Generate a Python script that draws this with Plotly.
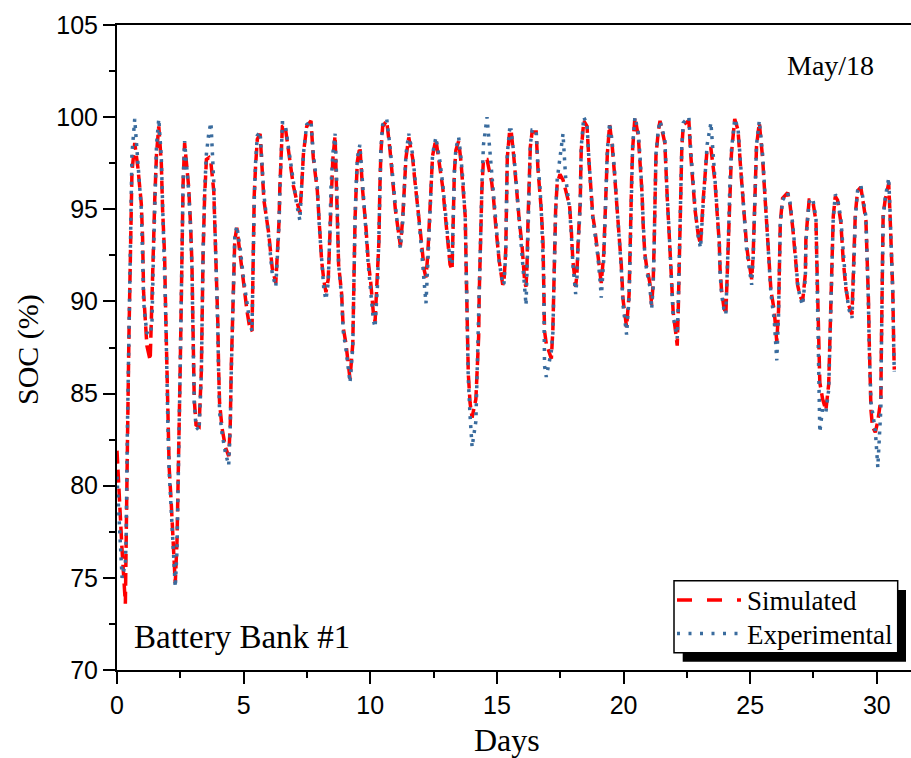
import plotly.graph_objects as go

# ---- data ----
days = [
    0.00, 0.08, 0.20, 0.33,
    0.36, 0.41, 0.47, 0.53, 0.59, 0.70,
    0.83, 0.96, 1.01, 1.05, 1.12, 1.18, 1.31,
    1.38, 1.44, 1.49, 1.56, 1.65,
    1.75, 1.80, 1.88, 1.91, 1.95, 1.97, 2.01, 2.06, 2.14, 2.20, 2.30,
    2.37, 2.41, 2.45, 2.49, 2.53, 2.57, 2.61, 2.67,
    2.83, 2.91, 2.96, 2.99, 3.02, 3.05, 3.12, 3.24,
    3.33, 3.36, 3.40, 3.46, 3.53, 3.63, 3.71,
    3.82, 3.88, 3.95, 3.98, 4.01, 4.05, 4.15, 4.28, 4.41,
    4.47, 4.51, 4.57, 4.60, 4.65, 4.73,
    4.87, 5.00, 5.13, 5.25, 5.33,
    5.36, 5.39, 5.42, 5.47, 5.54, 5.65,
    5.71, 5.80, 5.99, 6.13, 6.27,
    6.34, 6.40, 6.43, 6.47, 6.53, 6.63,
    6.70, 6.86, 6.96, 7.09, 7.22,
    7.29, 7.36, 7.49, 7.66,
    7.75, 7.91, 7.99, 8.08, 8.17, 8.25,
    8.34, 8.41, 8.45, 8.52, 8.61,
    8.67, 8.71, 8.75, 8.87, 8.93, 9.04, 9.13, 9.20,
    9.31, 9.33, 9.36, 9.40, 9.44, 9.49, 9.59,
    9.70, 9.83, 9.92, 10.02, 10.12, 10.19,
    10.29, 10.34, 10.38, 10.42, 10.49, 10.65,
    10.78, 10.88, 10.99, 11.15, 11.19,
    11.28, 11.34, 11.41, 11.52,
    11.67, 11.78, 11.91, 12.00, 12.13, 12.20,
    12.27, 12.33, 12.39, 12.46, 12.59,
    12.75, 12.86, 12.96, 13.06, 13.15, 13.23,
    13.25, 13.28, 13.32, 13.38, 13.49,
    13.58, 13.67, 13.75, 13.78, 13.81, 13.82, 13.85, 13.87, 13.94, 14.02,
    14.17, 14.22, 14.28, 14.30, 14.33, 14.37, 14.41, 14.47, 14.61,
    14.79, 14.86, 14.96, 15.09, 15.23,
    15.28, 15.35, 15.37, 15.38, 15.41, 15.50, 15.56,
    15.67, 15.76, 15.87, 16.00, 16.10, 16.15,
    16.19, 16.23, 16.27, 16.32, 16.39, 16.55,
    16.62, 16.69, 16.75, 16.82, 16.85, 16.86, 16.88, 16.95, 17.15,
    17.21, 17.24, 17.28, 17.32, 17.38, 17.49, 17.61,
    17.71, 17.87, 17.94, 18.00, 18.11,
    18.16, 18.20, 18.24, 18.29, 18.31, 18.33, 18.43,
    18.56, 18.63, 18.70, 18.79, 18.86, 18.99, 19.08, 19.12,
    19.22, 19.28, 19.32, 19.36, 19.45,
    19.55, 19.65, 19.74, 19.85, 19.91, 19.98, 20.08, 20.12,
    20.22, 20.25, 20.28, 20.32, 20.36, 20.45,
    20.58, 20.67, 20.73, 20.78, 20.84, 20.91, 21.04, 21.11,
    21.17, 21.21, 21.24, 21.28, 21.37, 21.44,
    21.63, 21.67, 21.73, 21.80, 21.86, 21.90, 21.96, 22.07, 22.12,
    22.16, 22.20, 22.24, 22.28, 22.30, 22.36, 22.58,
    22.65, 22.73, 22.82, 22.95, 23.04,
    23.15, 23.21, 23.30, 23.45,
    23.61, 23.70, 23.78, 23.81, 23.87, 23.96, 24.04,
    24.09, 24.13, 24.17, 24.20, 24.26, 24.39,
    24.52, 24.62, 24.70, 24.79, 24.86, 24.92, 25.02, 25.06,
    25.12, 25.16, 25.21, 25.25, 25.36,
    25.49, 25.56, 25.65, 25.75, 25.82, 25.95, 26.01, 26.05,
    26.12, 26.15, 26.17, 26.19, 26.28, 26.48,
    26.57, 26.68, 26.81, 26.87, 26.97, 27.07,
    27.18, 27.20, 27.27, 27.33, 27.47,
    27.60, 27.63, 27.66, 27.69, 27.72, 27.75, 27.86, 27.99,
    28.10, 28.15, 28.19, 28.23, 28.28, 28.36, 28.45,
    28.58, 28.67, 28.78, 28.89, 29.02,
    29.07, 29.11, 29.15, 29.24, 29.37,
    29.57, 29.63, 29.67, 29.70, 29.73, 29.77, 29.83, 29.94, 30.04,
    30.16, 30.18, 30.20, 30.23, 30.25, 30.33, 30.47,
    30.52, 30.59, 30.63, 30.67, 30.69,
]

soc_sim = [
    81.9, 79.5, 76.5, 73.6,
    76.0, 82.0, 88.0, 93.5, 97.0, 98.6,
    97.2, 95.3, 93.5, 90.5, 88.9, 87.6, 86.8,
    89.5, 93.0, 95.5, 98.0, 99.5,
    97.5, 95.0, 92.5, 90.2, 87.8, 85.7, 83.7, 81.0, 79.1, 77.2, 74.7,
    77.0, 79.5, 83.0, 86.0, 89.3, 93.2, 96.4, 98.6,
    96.2, 94.0, 92.0, 89.4, 87.0, 84.7, 83.3, 83.2,
    86.2, 89.8, 92.6, 95.7, 97.7, 97.8, 97.5,
    96.0, 93.5, 91.0, 88.9, 86.5, 84.5, 83.1, 82.1, 81.6,
    83.2, 86.3, 89.7, 91.5, 93.3, 94.0,
    92.6, 91.0, 89.5, 88.5, 88.4,
    91.4, 93.5, 95.8, 97.3, 98.8, 99.1,
    97.5, 95.5, 93.7, 91.8, 91.0,
    92.6, 94.4, 96.2, 98.0, 99.5, 99.6,
    98.9, 97.3, 96.3, 95.5, 94.8,
    96.2, 98.0, 99.5, 99.8,
    97.8, 96.0, 94.2, 92.2, 91.1, 90.5,
    91.2, 94.1, 96.0, 97.7, 99.0,
    96.5, 94.0, 92.0, 90.4, 88.6, 87.7, 86.8, 85.8,
    87.7, 89.7, 92.3, 94.5, 96.0, 97.6, 98.4,
    96.0, 94.0, 92.2, 91.0, 89.4, 88.9,
    91.3, 93.2, 96.2, 98.1, 99.5, 99.8,
    98.2, 96.6, 95.0, 93.4, 93.0,
    94.5, 96.0, 97.8, 98.9,
    97.8, 96.3, 94.8, 93.5, 91.7, 91.3,
    92.5, 94.3, 96.2, 97.9, 98.8,
    97.4, 96.2, 94.7, 93.0, 92.0, 91.7,
    93.5, 95.3, 97.0, 98.2, 98.7,
    97.6, 96.2, 94.6, 92.3, 90.5, 89.6, 88.1, 86.1, 84.5, 83.7,
    84.7, 86.4, 88.1, 90.3, 92.4, 94.0, 96.2, 97.7, 97.7,
    96.5, 95.7, 94.0, 92.2, 90.9,
    91.1, 92.8, 94.5, 96.0, 97.8, 99.2, 99.3,
    97.8, 96.3, 94.6, 92.9, 91.0, 90.8,
    92.0, 94.5, 97.0, 98.4, 99.2, 99.2,
    97.2, 96.2, 95.0, 93.2, 91.5, 89.9, 88.4, 87.7, 86.9,
    88.5, 91.0, 93.5, 95.0, 96.4, 96.9, 96.6,
    96.0, 95.2, 93.8, 92.2, 90.8,
    91.5, 93.0, 93.8, 95.4, 97.0, 98.2, 99.8,
    99.5, 97.7, 96.2, 94.6, 94.0, 92.6, 91.5, 91.0,
    92.6, 94.6, 96.4, 98.0, 99.6,
    98.5, 96.8, 95.2, 93.5, 92.0, 90.1, 88.9, 88.6,
    90.4, 92.7, 94.9, 96.6, 98.3, 100.0,
    99.0, 97.3, 95.9, 94.0, 92.6, 91.9, 91.0, 89.8,
    91.0, 93.2, 95.7, 97.9, 99.2, 99.8,
    98.6, 97.1, 95.5, 93.7, 91.9, 90.3, 89.4, 88.2, 87.6,
    89.5, 92.3, 94.5, 96.5, 98.3, 99.6, 99.8,
    98.0, 96.4, 95.0, 93.6, 93.1,
    95.6, 96.9, 98.3, 98.3,
    96.5, 94.7, 93.2, 91.8, 90.6, 89.7, 89.3,
    91.3, 93.2, 95.0, 96.5, 98.0, 99.9,
    99.3, 97.3, 95.7, 94.2, 93.0, 92.4, 91.4, 91.2,
    92.6, 95.0, 96.8, 98.4, 99.7,
    97.8, 96.2, 94.3, 92.2, 90.6, 89.5, 88.3, 87.8,
    89.5, 91.0, 92.7, 94.3, 95.6, 95.9,
    95.3, 94.0, 92.0, 90.9, 90.3, 90.0,
    91.5, 93.4, 94.6, 95.5, 95.5,
    94.3, 92.3, 90.2, 88.8, 87.2, 85.6, 84.7, 84.1,
    85.5, 87.7, 90.2, 92.5, 94.6, 95.7, 95.5,
    94.3, 92.3, 90.7, 89.8, 89.3,
    91.0, 93.2, 94.7, 96.0, 96.2,
    94.4, 92.3, 90.1, 87.9, 86.1, 84.1, 83.2, 82.9, 83.5,
    84.7, 87.5, 90.2, 92.5, 94.7, 95.5, 96.4,
    94.8, 92.7, 90.6, 87.5, 86.3,
]

soc_exp = [
    80.5, 78.0, 75.0, 75.8,
    77.0, 83.0, 89.0, 94.5, 98.0, 99.9,
    97.5, 95.0, 92.5, 90.0, 89.0, 88.3, 88.2,
    88.8, 92.5, 95.8, 98.5, 99.9,
    97.8, 95.3, 92.0, 90.0, 87.5, 85.5, 83.2, 80.8, 78.5, 76.5, 74.5,
    76.5, 79.0, 82.5, 86.0, 89.5, 93.5, 96.5, 98.7,
    96.0, 93.8, 91.8, 89.0, 86.8, 84.5, 83.2, 83.0,
    86.0, 89.5, 92.8, 96.0, 98.0, 99.2, 99.7,
    96.5, 93.8, 91.0, 88.5, 86.2, 84.0, 82.8, 81.8, 81.1,
    83.0, 86.0, 89.5, 91.5, 93.5, 94.1,
    92.8, 91.2, 89.8, 88.8, 88.4,
    91.0, 93.2, 95.5, 97.5, 99.0, 99.2,
    97.8, 95.8, 93.5, 91.5, 90.8,
    92.5, 94.2, 96.0, 98.2, 99.7, 99.7,
    99.0, 97.5, 96.5, 95.3, 94.4,
    96.0, 98.0, 99.6, 99.8,
    98.0, 96.2, 94.0, 92.0, 90.6, 90.1,
    91.0, 94.0, 96.2, 98.0, 99.1,
    96.8, 94.2, 92.0, 90.2, 88.4, 87.4, 86.5, 85.6,
    87.5, 89.5, 92.0, 94.5, 96.2, 97.8, 98.5,
    96.2, 94.2, 92.0, 90.5, 89.0, 88.6,
    91.0, 93.5, 96.0, 98.3, 99.6, 99.9,
    98.4, 96.8, 95.2, 93.2, 92.9,
    94.3, 96.0, 98.0, 99.1,
    98.0, 96.5, 94.8, 93.2, 91.0, 89.9,
    92.0, 94.0, 96.0, 98.0, 98.9,
    97.6, 96.4, 94.8, 93.2, 92.2, 92.0,
    93.3, 95.0, 97.0, 98.3, 98.9,
    97.8, 96.4, 94.5, 92.0, 90.2, 89.2, 87.8, 85.8, 83.8, 82.1,
    83.5, 86.0, 88.0, 90.0, 92.2, 94.2, 96.5, 98.5, 100.0,
    97.0, 95.9, 94.2, 92.2, 90.9,
    91.0, 92.6, 94.3, 96.0, 98.0, 99.3, 99.3,
    98.0, 96.5, 94.6, 92.7, 90.6, 89.8,
    91.7, 94.3, 97.0, 98.5, 99.3, 99.3,
    97.4, 96.4, 95.0, 93.0, 91.2, 89.5, 86.5, 85.9, 87.3,
    88.3, 90.8, 93.3, 95.0, 96.6, 97.8, 99.1,
    96.8, 95.0, 93.6, 92.0, 90.4,
    91.2, 92.8, 93.8, 95.2, 97.0, 98.4, 100.0,
    99.6, 97.8, 96.3, 94.4, 93.8, 92.4, 91.0, 90.2,
    92.3, 94.4, 96.3, 98.2, 99.7,
    98.7, 97.0, 95.3, 93.5, 91.8, 89.8, 88.5, 88.2,
    90.2, 92.5, 94.8, 96.7, 98.5, 100.0,
    99.2, 97.5, 96.0, 94.0, 92.5, 91.7, 90.8, 89.6,
    90.8, 93.0, 95.5, 98.0, 99.3, 99.8,
    98.8, 97.3, 95.6, 93.8, 92.0, 90.2, 89.2, 88.4, 88.0,
    89.8, 92.5, 94.6, 96.6, 98.4, 99.7, 100.0,
    98.3, 96.6, 95.2, 93.5, 92.9,
    95.4, 96.9, 98.5, 99.7,
    97.0, 94.9, 93.2, 91.6, 90.4, 89.6, 89.3,
    91.0, 93.0, 94.8, 96.5, 98.2, 99.9,
    99.4, 97.5, 95.8, 94.2, 92.8, 92.2, 91.0, 90.9,
    92.4, 94.8, 96.8, 98.5, 99.8,
    98.0, 96.4, 94.3, 92.0, 90.4, 89.0, 87.6, 86.8,
    89.2, 90.8, 92.5, 94.2, 95.5, 95.9,
    95.4, 94.2, 92.2, 91.0, 90.2, 89.8,
    91.3, 93.2, 94.5, 95.4, 95.6,
    94.5, 92.2, 90.0, 88.4, 85.5, 82.9, 84.2, 84.0,
    85.2, 87.5, 90.0, 92.3, 94.5, 95.8, 95.6,
    94.5, 92.5, 90.8, 89.6, 89.1,
    90.8, 93.0, 94.5, 96.0, 96.3,
    94.6, 92.2, 89.8, 87.5, 85.5, 84.5, 84.0, 83.0, 81.0,
    84.2, 87.2, 90.0, 92.4, 94.5, 95.6, 96.7,
    95.0, 92.8, 90.5, 87.3, 86.2,
]

x_ticks = [0, 5, 10, 15, 20, 25, 30]
y_ticks = [70, 75, 80, 85, 90, 95, 100, 105]
series_names = ["Simulated", "Experimental"]
series_colors = ["#FF0000", "#3A6C9E"]

assert len(days) == len(soc_sim) == len(soc_exp)

SERIF = "Liberation Serif, Times New Roman, serif"
SANS = "Liberation Sans, Arial, sans-serif"

SIM_DASH = "13px,6px"
EXP_DASH = "3px,6px"

fig = go.Figure()
fig.add_trace(go.Scatter(
    x=days, y=soc_sim, mode="lines", name=series_names[0],
    line=dict(color=series_colors[0], width=3.5, dash=SIM_DASH),
    showlegend=False,
))
fig.add_trace(go.Scatter(
    x=days, y=soc_exp, mode="lines", name=series_names[1],
    line=dict(color=series_colors[1], width=3.5, dash=EXP_DASH),
    showlegend=False,
))

W, H = 911, 758
L, R, T, B = 117, 0, 25, 88
pw, ph = W - L - R, H - T - B


def px(xpix):
    return (xpix - L) / pw


def py(ypix):
    return (H - B - ypix) / ph


# legend drawn as a boxed key with a drop shadow (as in the reference)
legend_rows = [600, 633.5]
legend_shapes = [
    dict(type="rect", xref="paper", yref="paper",
         x0=px(682.7), x1=px(906), y0=py(661.7), y1=py(590),
         fillcolor="black", line=dict(width=0), layer="above"),
    dict(type="rect", xref="paper", yref="paper",
         x0=px(674), x1=px(897.7), y0=py(652.7), y1=py(580.7),
         fillcolor="white", line=dict(color="black", width=1.5),
         layer="above"),
    dict(type="line", xref="paper", yref="paper",
         x0=px(677), x1=px(741), y0=py(legend_rows[0]), y1=py(legend_rows[0]),
         line=dict(color=series_colors[0], width=3.5, dash="15px,15px"),
         layer="above"),
    dict(type="line", xref="paper", yref="paper",
         x0=px(677), x1=px(741), y0=py(legend_rows[1]), y1=py(legend_rows[1]),
         line=dict(color=series_colors[1], width=3.5, dash="3px,8.5px"),
         layer="above"),
]
legend_texts = [
    dict(text=name, xref="paper", yref="paper", x=px(745), y=py(row + 1),
         xanchor="left", yanchor="middle", showarrow=False,
         font=dict(family=SERIF, size=27, color="black"))
    for name, row in zip(series_names, legend_rows)
]

fig.update_layout(
    width=W, height=H,
    margin=dict(l=L, r=R, t=T, b=B),
    paper_bgcolor="white", plot_bgcolor="white",
    showlegend=False,
    xaxis=dict(
        range=[0, 31.35], tickvals=x_ticks, ticks="outside", ticklen=12,
        tickwidth=2, tickcolor="black", showline=True, linewidth=2,
        linecolor="black", mirror=True, showgrid=False, zeroline=False,
        tickfont=dict(family=SANS, size=25, color="black"),
        minor=dict(dtick=2.5, tick0=0, ticks="outside", ticklen=6,
                   tickwidth=2, tickcolor="black", showgrid=False),
    ),
    yaxis=dict(
        range=[70, 105], tickvals=y_ticks, ticks="outside", ticklen=12,
        tickwidth=2, tickcolor="black", showline=True, linewidth=2,
        linecolor="black", mirror=False, showgrid=False, zeroline=False,
        tickfont=dict(family=SANS, size=25, color="black"),
        minor=dict(dtick=2.5, tick0=0, ticks="outside", ticklen=6,
                   tickwidth=2, tickcolor="black", showgrid=False),
    ),
    shapes=legend_shapes,
    annotations=[
        dict(text="May/18", xref="paper", yref="paper", x=px(876), y=py(66),
             xanchor="right", yanchor="middle", showarrow=False,
             font=dict(family=SERIF, size=28, color="black")),
        dict(text="Battery Bank #1", xref="paper", yref="paper", x=px(132),
             y=py(637), xanchor="left", yanchor="middle", showarrow=False,
             font=dict(family=SERIF, size=33, color="black")),
        dict(text="Days", xref="paper", yref="paper", x=px(507), y=py(740),
             xanchor="center", yanchor="middle", showarrow=False,
             font=dict(family=SERIF, size=32, color="black")),
        dict(text="SOC (%)", xref="paper", yref="paper", x=px(28), y=py(350),
             xanchor="center", yanchor="middle", showarrow=False,
             textangle=-90,
             font=dict(family=SERIF, size=30, color="black")),
    ] + legend_texts,
)

fig.write_html("out.html")
